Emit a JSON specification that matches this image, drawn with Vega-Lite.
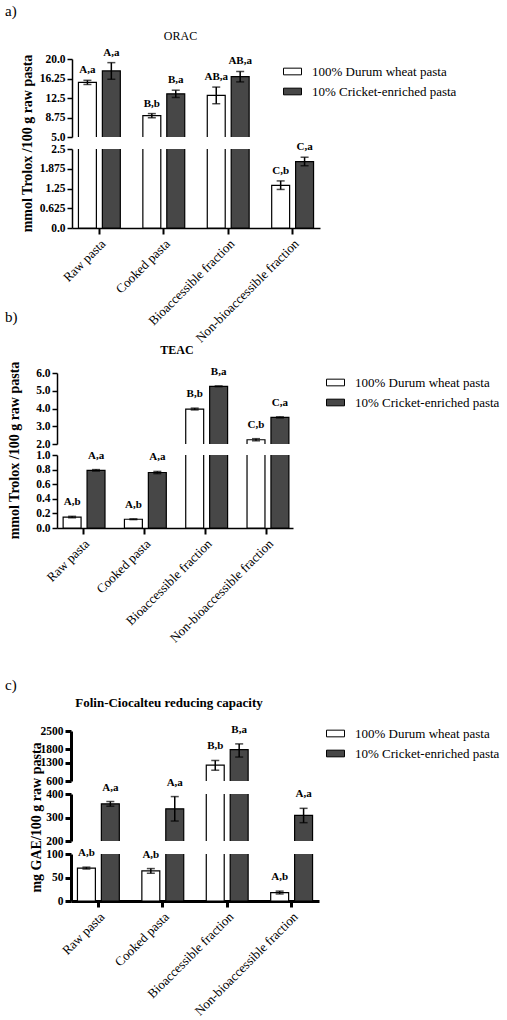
{
"$schema": "https://vega.github.io/schema/vega-lite/v6.json",
"padding": {"left": 5, "top": 3, "right": 0, "bottom": 0},
"config": {
  "font": "Liberation Serif",
  "view": {"stroke": null},
  "axis": {"grid": false, "domainColor": "black", "tickColor": "black", "labelColor": "black", "titleColor": "black", "labelFont": "Liberation Serif", "titleFont": "Liberation Serif", "labelOverlap": false},
  "axisY": {"tickSize": 5, "tickWidth": 1.5, "domainWidth": 1.5, "labelFontSize": 11.5, "labelFontWeight": "bold", "labelPadding": 2, "titleFontSize": 14, "titleFontWeight": "bold"},
  "axisX": {"labelAngle": -45, "labelFontSize": 13, "labelFontWeight": "normal", "tickSize": 6, "tickWidth": 2, "domainWidth": 1.5, "labelPadding": 3},
  "legend": {"symbolType": "M-1,-0.37H1V0.37H-1Z", "symbolSize": 324, "symbolStrokeColor": "black", "symbolStrokeWidth": 1, "labelFont": "Liberation Serif", "labelFontSize": 13, "labelColor": "black", "labelOffset": 10, "rowPadding": 3}
},
"datasets": {
  "orac": [
    {"cat": "Raw pasta", "pasta": "100% Durum wheat pasta", "v": 15.5, "lo": 15.1, "hi": 15.9, "lab": "A,a"},
    {"cat": "Raw pasta", "pasta": "10% Cricket-enriched pasta", "v": 17.7, "lo": 16.1, "hi": 19.3, "lab": "A,a"},
    {"cat": "Cooked pasta", "pasta": "100% Durum wheat pasta", "v": 9.1, "lo": 8.7, "hi": 9.5, "lab": "B,b"},
    {"cat": "Cooked pasta", "pasta": "10% Cricket-enriched pasta", "v": 13.3, "lo": 12.6, "hi": 14.0, "lab": "B,a"},
    {"cat": "Bioaccessible fraction", "pasta": "100% Durum wheat pasta", "v": 13.0, "lo": 11.4, "hi": 14.6, "lab": "AB,a"},
    {"cat": "Bioaccessible fraction", "pasta": "10% Cricket-enriched pasta", "v": 16.6, "lo": 15.6, "hi": 17.6, "lab": "AB,a"},
    {"cat": "Non-bioaccessible fraction", "pasta": "100% Durum wheat pasta", "v": 1.35, "lo": 1.22, "hi": 1.49, "lab": "C,b"},
    {"cat": "Non-bioaccessible fraction", "pasta": "10% Cricket-enriched pasta", "v": 2.1, "lo": 1.97, "hi": 2.24, "lab": "C,a"}
  ],
  "teac": [
    {"cat": "Raw pasta", "pasta": "100% Durum wheat pasta", "v": 0.15, "lo": 0.14, "hi": 0.16, "lab": "A,b"},
    {"cat": "Raw pasta", "pasta": "10% Cricket-enriched pasta", "v": 0.79, "lo": 0.78, "hi": 0.8, "lab": "A,a"},
    {"cat": "Cooked pasta", "pasta": "100% Durum wheat pasta", "v": 0.12, "lo": 0.115, "hi": 0.125, "lab": "A,b"},
    {"cat": "Cooked pasta", "pasta": "10% Cricket-enriched pasta", "v": 0.76, "lo": 0.745, "hi": 0.775, "lab": "A,a"},
    {"cat": "Bioaccessible fraction", "pasta": "100% Durum wheat pasta", "v": 3.97, "lo": 3.92, "hi": 4.02, "lab": "B,b"},
    {"cat": "Bioaccessible fraction", "pasta": "10% Cricket-enriched pasta", "v": 5.25, "lo": 5.23, "hi": 5.27, "lab": "B,a"},
    {"cat": "Non-bioaccessible fraction", "pasta": "100% Durum wheat pasta", "v": 2.24, "lo": 2.18, "hi": 2.3, "lab": "C,b"},
    {"cat": "Non-bioaccessible fraction", "pasta": "10% Cricket-enriched pasta", "v": 3.5, "lo": 3.47, "hi": 3.53, "lab": "C,a"}
  ],
  "fc": [
    {"cat": "Raw pasta", "pasta": "100% Durum wheat pasta", "v": 70, "lo": 68, "hi": 72, "lab": "A,b"},
    {"cat": "Raw pasta", "pasta": "10% Cricket-enriched pasta", "v": 358, "lo": 348, "hi": 368, "lab": "A,a"},
    {"cat": "Cooked pasta", "pasta": "100% Durum wheat pasta", "v": 64, "lo": 59, "hi": 69, "lab": "A,b"},
    {"cat": "Cooked pasta", "pasta": "10% Cricket-enriched pasta", "v": 337, "lo": 285, "hi": 389, "lab": "A,a"},
    {"cat": "Bioaccessible fraction", "pasta": "100% Durum wheat pasta", "v": 1200, "lo": 1010, "hi": 1380, "lab": "B,b"},
    {"cat": "Bioaccessible fraction", "pasta": "10% Cricket-enriched pasta", "v": 1790, "lo": 1510, "hi": 2010, "lab": "B,a"},
    {"cat": "Non-bioaccessible fraction", "pasta": "100% Durum wheat pasta", "v": 18, "lo": 15, "hi": 21, "lab": "A,b"},
    {"cat": "Non-bioaccessible fraction", "pasta": "10% Cricket-enriched pasta", "v": 309, "lo": 278, "hi": 339, "lab": "A,a"}
  ]
},
"spacing": 32,
"resolve": {"scale": {"color": "independent"}},
"vconcat": [
{
"spacing": -36,
"resolve": {"scale": {"color": "independent"}},
"vconcat": [
{
  "title": {"text": "a)", "anchor": "start", "frame": "group", "dx": -52, "fontSize": 15, "fontWeight": "normal", "offset": 11},
  "bounds": "flush",
  "spacing": 12,
  "resolve": {"scale": {"color": "independent"}},
  "vconcat": [
    {
      "title": {"text": "ORAC", "fontSize": 12, "fontWeight": "normal", "offset": 4, "dx": -8},
      "width": 263, "height": 78,
      "data": {"name": "orac"},
      "encoding": {
        "x": {"field": "cat", "type": "nominal", "sort": ["Raw pasta", "Cooked pasta", "Bioaccessible fraction", "Non-bioaccessible fraction"], "scale": {"range": [15, 263], "paddingInner": 0.35, "paddingOuter": 0.1}, "axis": null},
        "xOffset": {"field": "pasta", "type": "nominal", "sort": ["100% Durum wheat pasta", "10% Cricket-enriched pasta"], "scale": {"paddingInner": 0.25, "paddingOuter": 0}}
      },
      "layer": [
        {"mark": {"type": "bar", "clip": true, "stroke": "black", "strokeWidth": 1.2},
         "encoding": {
           "y": {"field": "v", "type": "quantitative", "title": null, "scale": {"domain": [5, 20], "nice": false, "zero": false}, "axis": {"offset": -15, "values": [5, 8.75, 12.5, 16.25, 20], "labelExpr": "indexof(format(datum.value,'~f'),'.') < 0 ? format(datum.value,'.1f') : format(datum.value,'~f')"}},
           "color": {"field": "pasta", "type": "nominal", "scale": {"domain": ["100% Durum wheat pasta", "10% Cricket-enriched pasta"], "range": ["#ffffff", "#474747"]}, "legend": {"orient": "none", "legendX": 226, "legendY": 3, "title": null, "labelFont": "Liberation Serif", "labelFontSize": 13}}
         }},
        {"mark": {"type": "rule", "clip": true, "color": "black", "strokeWidth": 1.5},
         "encoding": {"y": {"field": "lo", "type": "quantitative", "title": null, "axis": {"offset": -15, "values": [5, 8.75, 12.5, 16.25, 20], "labelExpr": "indexof(format(datum.value,'~f'),'.') < 0 ? format(datum.value,'.1f') : format(datum.value,'~f')"}}, "y2": {"field": "hi"}}},
        {"mark": {"type": "tick", "clip": true, "color": "black", "size": 8, "thickness": 1.5},
         "encoding": {"y": {"field": "lo", "type": "quantitative", "title": null, "axis": {"offset": -15, "values": [5, 8.75, 12.5, 16.25, 20], "labelExpr": "indexof(format(datum.value,'~f'),'.') < 0 ? format(datum.value,'.1f') : format(datum.value,'~f')"}}}},
        {"mark": {"type": "tick", "clip": true, "color": "black", "size": 8, "thickness": 1.5},
         "encoding": {"y": {"field": "hi", "type": "quantitative", "title": null, "axis": {"offset": -15, "values": [5, 8.75, 12.5, 16.25, 20], "labelExpr": "indexof(format(datum.value,'~f'),'.') < 0 ? format(datum.value,'.1f') : format(datum.value,'~f')"}}}},
        {"transform": [{"filter": {"field": "hi", "range": [5, 20]}}],
         "mark": {"type": "text", "baseline": "bottom", "dy": -5, "fontSize": 11, "fontWeight": "bold", "color": "black"},
         "encoding": {"y": {"field": "hi", "type": "quantitative", "title": null, "axis": {"offset": -15, "values": [5, 8.75, 12.5, 16.25, 20], "labelExpr": "indexof(format(datum.value,'~f'),'.') < 0 ? format(datum.value,'.1f') : format(datum.value,'~f')"}}, "text": {"field": "lab"}}}
      ]
    },
    {
      "width": 263, "height": 79,
      "data": {"name": "orac"},
      "encoding": {
        "x": {"field": "cat", "type": "nominal", "sort": ["Raw pasta", "Cooked pasta", "Bioaccessible fraction", "Non-bioaccessible fraction"], "scale": {"range": [15, 263], "paddingInner": 0.35, "paddingOuter": 0.1}, "axis": {"title": null}},
        "xOffset": {"field": "pasta", "type": "nominal", "sort": ["100% Durum wheat pasta", "10% Cricket-enriched pasta"], "scale": {"paddingInner": 0.25, "paddingOuter": 0}}
      },
      "layer": [
        {"mark": {"type": "bar", "clip": true, "stroke": "black", "strokeWidth": 1.2},
         "encoding": {
           "y": {"field": "v", "type": "quantitative", "title": "mmol Trolox /100 g raw pasta", "scale": {"domain": [0, 2.5], "nice": false}, "axis": {"offset": -15, "values": [0, 0.625, 1.25, 1.875, 2.5], "labelExpr": "indexof(format(datum.value,'~f'),'.') < 0 ? format(datum.value,'.1f') : format(datum.value,'~f')", "titleX": -38, "titleY": -6}},
           "color": {"field": "pasta", "type": "nominal", "scale": {"domain": ["100% Durum wheat pasta", "10% Cricket-enriched pasta"], "range": ["#ffffff", "#474747"]}, "legend": null}
         }},
        {"mark": {"type": "rule", "clip": true, "color": "black", "strokeWidth": 1.5},
         "encoding": {"y": {"field": "lo", "type": "quantitative", "title": "mmol Trolox /100 g raw pasta", "axis": {"offset": -15, "values": [0, 0.625, 1.25, 1.875, 2.5], "labelExpr": "indexof(format(datum.value,'~f'),'.') < 0 ? format(datum.value,'.1f') : format(datum.value,'~f')", "titleX": -38, "titleY": -6}}, "y2": {"field": "hi"}}},
        {"mark": {"type": "tick", "clip": true, "color": "black", "size": 8, "thickness": 1.5},
         "encoding": {"y": {"field": "lo", "type": "quantitative", "title": "mmol Trolox /100 g raw pasta", "axis": {"offset": -15, "values": [0, 0.625, 1.25, 1.875, 2.5], "labelExpr": "indexof(format(datum.value,'~f'),'.') < 0 ? format(datum.value,'.1f') : format(datum.value,'~f')", "titleX": -38, "titleY": -6}}}},
        {"mark": {"type": "tick", "clip": true, "color": "black", "size": 8, "thickness": 1.5},
         "encoding": {"y": {"field": "hi", "type": "quantitative", "title": "mmol Trolox /100 g raw pasta", "axis": {"offset": -15, "values": [0, 0.625, 1.25, 1.875, 2.5], "labelExpr": "indexof(format(datum.value,'~f'),'.') < 0 ? format(datum.value,'.1f') : format(datum.value,'~f')", "titleX": -38, "titleY": -6}}}},
        {"transform": [{"filter": {"field": "hi", "range": [0, 2.5]}}],
         "mark": {"type": "text", "baseline": "bottom", "dy": -5, "fontSize": 11, "fontWeight": "bold", "color": "black"},
         "encoding": {"y": {"field": "hi", "type": "quantitative", "title": "mmol Trolox /100 g raw pasta", "axis": {"offset": -15, "values": [0, 0.625, 1.25, 1.875, 2.5], "labelExpr": "indexof(format(datum.value,'~f'),'.') < 0 ? format(datum.value,'.1f') : format(datum.value,'~f')", "titleX": -38, "titleY": -6}}, "text": {"field": "lab"}}}
      ]
    }
  ]
},
{
  "title": {"text": "b)", "anchor": "start", "frame": "group", "dx": -52, "fontSize": 15, "fontWeight": "normal", "offset": 19},
  "bounds": "flush",
  "spacing": 11,
  "resolve": {"scale": {"color": "independent"}},
  "vconcat": [
    {
      "title": {"text": "TEAC", "fontSize": 12, "fontWeight": "bold", "offset": 9, "dx": 2},
      "width": 236, "height": 71,
      "data": {"name": "teac"},
      "encoding": {
        "x": {"field": "cat", "type": "nominal", "sort": ["Raw pasta", "Cooked pasta", "Bioaccessible fraction", "Non-bioaccessible fraction"], "scale": {"paddingInner": 0.35, "paddingOuter": 0.1}, "axis": null},
        "xOffset": {"field": "pasta", "type": "nominal", "sort": ["100% Durum wheat pasta", "10% Cricket-enriched pasta"], "scale": {"paddingInner": 0.25, "paddingOuter": 0}}
      },
      "layer": [
        {"mark": {"type": "bar", "clip": true, "stroke": "black", "strokeWidth": 1.2},
         "encoding": {
           "y": {"field": "v", "type": "quantitative", "title": null, "scale": {"domain": [2, 6], "nice": false, "zero": false}, "axis": {"values": [2, 3, 4, 5, 6], "format": ".1f"}},
           "color": {"field": "pasta", "type": "nominal", "scale": {"domain": ["100% Durum wheat pasta", "10% Cricket-enriched pasta"], "range": ["#ffffff", "#474747"]}, "legend": {"orient": "none", "legendX": 269, "legendY": 0, "title": null, "labelFont": "Liberation Serif", "labelFontSize": 13}}
         }},
        {"mark": {"type": "rule", "clip": true, "color": "black", "strokeWidth": 1.5},
         "encoding": {"y": {"field": "lo", "type": "quantitative", "title": null, "axis": {"values": [2, 3, 4, 5, 6], "format": ".1f"}}, "y2": {"field": "hi"}}},
        {"mark": {"type": "tick", "clip": true, "color": "black", "size": 8, "thickness": 1.5},
         "encoding": {"y": {"field": "lo", "type": "quantitative", "title": null, "axis": {"values": [2, 3, 4, 5, 6], "format": ".1f"}}}},
        {"mark": {"type": "tick", "clip": true, "color": "black", "size": 8, "thickness": 1.5},
         "encoding": {"y": {"field": "hi", "type": "quantitative", "title": null, "axis": {"values": [2, 3, 4, 5, 6], "format": ".1f"}}}},
        {"transform": [{"filter": {"field": "hi", "range": [2, 6]}}],
         "mark": {"type": "text", "baseline": "bottom", "dy": -9, "fontSize": 11, "fontWeight": "bold", "color": "black"},
         "encoding": {"y": {"field": "hi", "type": "quantitative", "title": null, "axis": {"values": [2, 3, 4, 5, 6], "format": ".1f"}}, "text": {"field": "lab"}}}
      ]
    },
    {
      "width": 236, "height": 73,
      "data": {"name": "teac"},
      "encoding": {
        "x": {"field": "cat", "type": "nominal", "sort": ["Raw pasta", "Cooked pasta", "Bioaccessible fraction", "Non-bioaccessible fraction"], "scale": {"paddingInner": 0.35, "paddingOuter": 0.1}, "axis": {"title": null}},
        "xOffset": {"field": "pasta", "type": "nominal", "sort": ["100% Durum wheat pasta", "10% Cricket-enriched pasta"], "scale": {"paddingInner": 0.25, "paddingOuter": 0}}
      },
      "layer": [
        {"mark": {"type": "bar", "clip": true, "stroke": "black", "strokeWidth": 1.2},
         "encoding": {
           "y": {"field": "v", "type": "quantitative", "title": "mmol Trolox /100 g raw pasta", "scale": {"domain": [0, 1], "nice": false}, "axis": {"values": [0, 0.2, 0.4, 0.6, 0.8, 1], "format": ".1f", "titleX": -36, "titleY": -5}},
           "color": {"field": "pasta", "type": "nominal", "scale": {"domain": ["100% Durum wheat pasta", "10% Cricket-enriched pasta"], "range": ["#ffffff", "#474747"]}, "legend": null}
         }},
        {"mark": {"type": "rule", "clip": true, "color": "black", "strokeWidth": 1.5},
         "encoding": {"y": {"field": "lo", "type": "quantitative", "title": "mmol Trolox /100 g raw pasta", "axis": {"values": [0, 0.2, 0.4, 0.6, 0.8, 1], "format": ".1f", "titleX": -36, "titleY": -5}}, "y2": {"field": "hi"}}},
        {"mark": {"type": "tick", "clip": true, "color": "black", "size": 8, "thickness": 1.5},
         "encoding": {"y": {"field": "lo", "type": "quantitative", "title": "mmol Trolox /100 g raw pasta", "axis": {"values": [0, 0.2, 0.4, 0.6, 0.8, 1], "format": ".1f", "titleX": -36, "titleY": -5}}}},
        {"mark": {"type": "tick", "clip": true, "color": "black", "size": 8, "thickness": 1.5},
         "encoding": {"y": {"field": "hi", "type": "quantitative", "title": "mmol Trolox /100 g raw pasta", "axis": {"values": [0, 0.2, 0.4, 0.6, 0.8, 1], "format": ".1f", "titleX": -36, "titleY": -5}}}},
        {"transform": [{"filter": {"field": "hi", "range": [0, 1]}}],
         "mark": {"type": "text", "baseline": "bottom", "dy": -9, "fontSize": 11, "fontWeight": "bold", "color": "black"},
         "encoding": {"y": {"field": "hi", "type": "quantitative", "title": "mmol Trolox /100 g raw pasta", "axis": {"values": [0, 0.2, 0.4, 0.6, 0.8, 1], "format": ".1f", "titleX": -36, "titleY": -5}}, "text": {"field": "lab"}}}
      ]
    }
  ]
}
]
},
{
  "title": {"text": "c)", "anchor": "start", "frame": "group", "dx": -52, "fontSize": 15, "fontWeight": "normal", "offset": 4},
  "bounds": "flush",
  "spacing": 13,
  "resolve": {"scale": {"color": "independent"}},
  "vconcat": [
    {
      "title": {"text": "Folin-Ciocalteu reducing capacity", "fontSize": 13, "fontWeight": "bold", "offset": 14, "dx": -19},
      "width": 262, "height": 50,
      "data": {"name": "fc"},
      "encoding": {
        "x": {"field": "cat", "type": "nominal", "sort": ["Raw pasta", "Cooked pasta", "Bioaccessible fraction", "Non-bioaccessible fraction"], "scale": {"range": [14, 262], "paddingInner": 0.35, "paddingOuter": 0.1}, "axis": null},
        "xOffset": {"field": "pasta", "type": "nominal", "sort": ["100% Durum wheat pasta", "10% Cricket-enriched pasta"], "scale": {"paddingInner": 0.25, "paddingOuter": 0}}
      },
      "layer": [
        {"mark": {"type": "bar", "clip": true, "stroke": "black", "strokeWidth": 1.2},
         "encoding": {
           "y": {"field": "v", "type": "quantitative", "title": null, "scale": {"domain": [600, 2500], "nice": false, "zero": false}, "axis": {"offset": -14, "values": [600, 1300, 1800, 2500], "format": "d", "domainWidth": 3, "tickWidth": 3, "tickSize": 6}},
           "color": {"field": "pasta", "type": "nominal", "scale": {"domain": ["100% Durum wheat pasta", "10% Cricket-enriched pasta"], "range": ["#ffffff", "#474747"]}, "legend": {"orient": "none", "legendX": 269, "legendY": -7, "title": null, "labelFont": "Liberation Serif", "labelFontSize": 13}}
         }},
        {"mark": {"type": "rule", "clip": true, "color": "black", "strokeWidth": 1.5},
         "encoding": {"y": {"field": "lo", "type": "quantitative", "title": null, "axis": {"offset": -14, "values": [600, 1300, 1800, 2500], "format": "d", "domainWidth": 3, "tickWidth": 3, "tickSize": 6}}, "y2": {"field": "hi"}}},
        {"mark": {"type": "tick", "clip": true, "color": "black", "size": 8, "thickness": 1.5},
         "encoding": {"y": {"field": "lo", "type": "quantitative", "title": null, "axis": {"offset": -14, "values": [600, 1300, 1800, 2500], "format": "d", "domainWidth": 3, "tickWidth": 3, "tickSize": 6}}}},
        {"mark": {"type": "tick", "clip": true, "color": "black", "size": 8, "thickness": 1.5},
         "encoding": {"y": {"field": "hi", "type": "quantitative", "title": null, "axis": {"offset": -14, "values": [600, 1300, 1800, 2500], "format": "d", "domainWidth": 3, "tickWidth": 3, "tickSize": 6}}}},
        {"transform": [{"filter": {"field": "hi", "range": [600, 2500]}}],
         "mark": {"type": "text", "baseline": "bottom", "dy": -9, "fontSize": 11, "fontWeight": "bold", "color": "black"},
         "encoding": {"y": {"field": "hi", "type": "quantitative", "title": null, "axis": {"offset": -14, "values": [600, 1300, 1800, 2500], "format": "d", "domainWidth": 3, "tickWidth": 3, "tickSize": 6}}, "text": {"field": "lab"}}}
      ]
    },
    {
      "width": 262, "height": 47,
      "data": {"name": "fc"},
      "encoding": {
        "x": {"field": "cat", "type": "nominal", "sort": ["Raw pasta", "Cooked pasta", "Bioaccessible fraction", "Non-bioaccessible fraction"], "scale": {"range": [14, 262], "paddingInner": 0.35, "paddingOuter": 0.1}, "axis": null},
        "xOffset": {"field": "pasta", "type": "nominal", "sort": ["100% Durum wheat pasta", "10% Cricket-enriched pasta"], "scale": {"paddingInner": 0.25, "paddingOuter": 0}}
      },
      "layer": [
        {"mark": {"type": "bar", "clip": true, "stroke": "black", "strokeWidth": 1.2},
         "encoding": {
           "y": {"field": "v", "type": "quantitative", "title": null, "scale": {"domain": [200, 400], "nice": false, "zero": false}, "axis": {"offset": -14, "values": [200, 300, 400], "format": "d", "domainWidth": 3, "tickWidth": 3, "tickSize": 6}},
           "color": {"field": "pasta", "type": "nominal", "scale": {"domain": ["100% Durum wheat pasta", "10% Cricket-enriched pasta"], "range": ["#ffffff", "#474747"]}, "legend": null}
         }},
        {"mark": {"type": "rule", "clip": true, "color": "black", "strokeWidth": 1.5},
         "encoding": {"y": {"field": "lo", "type": "quantitative", "title": null, "axis": {"offset": -14, "values": [200, 300, 400], "format": "d", "domainWidth": 3, "tickWidth": 3, "tickSize": 6}}, "y2": {"field": "hi"}}},
        {"mark": {"type": "tick", "clip": true, "color": "black", "size": 8, "thickness": 1.5},
         "encoding": {"y": {"field": "lo", "type": "quantitative", "title": null, "axis": {"offset": -14, "values": [200, 300, 400], "format": "d", "domainWidth": 3, "tickWidth": 3, "tickSize": 6}}}},
        {"mark": {"type": "tick", "clip": true, "color": "black", "size": 8, "thickness": 1.5},
         "encoding": {"y": {"field": "hi", "type": "quantitative", "title": null, "axis": {"offset": -14, "values": [200, 300, 400], "format": "d", "domainWidth": 3, "tickWidth": 3, "tickSize": 6}}}},
        {"transform": [{"filter": {"field": "hi", "range": [200, 400]}}],
         "mark": {"type": "text", "baseline": "bottom", "dy": -9, "fontSize": 11, "fontWeight": "bold", "color": "black"},
         "encoding": {"y": {"field": "hi", "type": "quantitative", "title": null, "axis": {"offset": -14, "values": [200, 300, 400], "format": "d", "domainWidth": 3, "tickWidth": 3, "tickSize": 6}}, "text": {"field": "lab"}}}
      ]
    },
    {
      "width": 262, "height": 47,
      "data": {"name": "fc"},
      "encoding": {
        "x": {"field": "cat", "type": "nominal", "sort": ["Raw pasta", "Cooked pasta", "Bioaccessible fraction", "Non-bioaccessible fraction"], "scale": {"range": [14, 262], "paddingInner": 0.35, "paddingOuter": 0.1}, "axis": {"title": null, "domainWidth": 3, "tickWidth": 3}},
        "xOffset": {"field": "pasta", "type": "nominal", "sort": ["100% Durum wheat pasta", "10% Cricket-enriched pasta"], "scale": {"paddingInner": 0.25, "paddingOuter": 0}}
      },
      "layer": [
        {"mark": {"type": "bar", "clip": true, "stroke": "black", "strokeWidth": 1.2},
         "encoding": {
           "y": {"field": "v", "type": "quantitative", "title": "mg GAE/100 g raw pasta", "scale": {"domain": [0, 100], "nice": false}, "axis": {"offset": -14, "values": [0, 50, 100], "format": "d", "domainWidth": 3, "tickWidth": 3, "tickSize": 6, "titleX": -28, "titleY": -37}},
           "color": {"field": "pasta", "type": "nominal", "scale": {"domain": ["100% Durum wheat pasta", "10% Cricket-enriched pasta"], "range": ["#ffffff", "#474747"]}, "legend": null}
         }},
        {"mark": {"type": "rule", "clip": true, "color": "black", "strokeWidth": 1.5},
         "encoding": {"y": {"field": "lo", "type": "quantitative", "title": "mg GAE/100 g raw pasta", "axis": {"offset": -14, "values": [0, 50, 100], "format": "d", "domainWidth": 3, "tickWidth": 3, "tickSize": 6, "titleX": -28, "titleY": -37}}, "y2": {"field": "hi"}}},
        {"mark": {"type": "tick", "clip": true, "color": "black", "size": 8, "thickness": 1.5},
         "encoding": {"y": {"field": "lo", "type": "quantitative", "title": "mg GAE/100 g raw pasta", "axis": {"offset": -14, "values": [0, 50, 100], "format": "d", "domainWidth": 3, "tickWidth": 3, "tickSize": 6, "titleX": -28, "titleY": -37}}}},
        {"mark": {"type": "tick", "clip": true, "color": "black", "size": 8, "thickness": 1.5},
         "encoding": {"y": {"field": "hi", "type": "quantitative", "title": "mg GAE/100 g raw pasta", "axis": {"offset": -14, "values": [0, 50, 100], "format": "d", "domainWidth": 3, "tickWidth": 3, "tickSize": 6, "titleX": -28, "titleY": -37}}}},
        {"transform": [{"filter": {"field": "hi", "range": [0, 100]}}],
         "mark": {"type": "text", "baseline": "bottom", "dy": -9, "fontSize": 11, "fontWeight": "bold", "color": "black"},
         "encoding": {"y": {"field": "hi", "type": "quantitative", "title": "mg GAE/100 g raw pasta", "axis": {"offset": -14, "values": [0, 50, 100], "format": "d", "domainWidth": 3, "tickWidth": 3, "tickSize": 6, "titleX": -28, "titleY": -37}}, "text": {"field": "lab"}}}
      ]
    }
  ]
}
]
}
